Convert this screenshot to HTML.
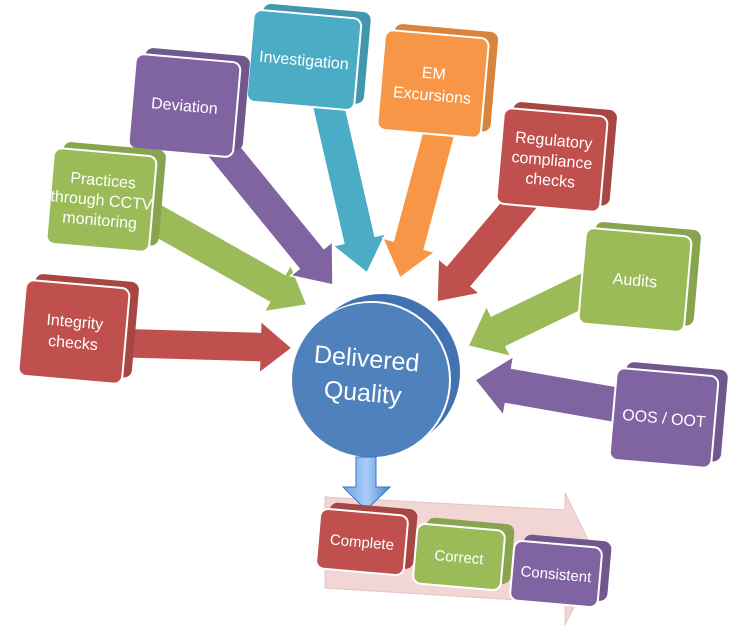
<!DOCTYPE html>
<html><head><meta charset="utf-8"><style>
html,body{margin:0;padding:0;background:#fff}
svg{display:block}
text{font-family:"Liberation Sans","DejaVu Sans",sans-serif;fill:#fff;text-anchor:middle}
</style></head><body>
<svg id="s" width="754" height="637" viewBox="0 0 754 637" xmlns="http://www.w3.org/2000/svg">
<defs>
<linearGradient id="bg" x1="0" x2="1" y1="0" y2="0"><stop offset="0" stop-color="#6fa3e6"/><stop offset="0.5" stop-color="#a9cdf7"/><stop offset="1" stop-color="#4a86d4"/></linearGradient>
</defs>
<g id="arrows"></g>
<polygon points="325,497 565,510 565,493 598,560 565,625 565,603 325,588" fill="#f2d5d5" stroke="#e8c3c3"/>
<g id="boxes"></g>
<ellipse cx="382" cy="372" rx="78" ry="78" fill="#4272b0"/>
<ellipse cx="372" cy="380" rx="78" ry="78" fill="#4f81bd" stroke="#fff" stroke-width="2"/>
<ellipse cx="370" cy="380" rx="78" ry="77" fill="#4f81bd"/>
<text x="366" y="367" font-size="25" transform="rotate(5 366 367)">Delivered</text>
<text x="362" y="401" font-size="25" transform="rotate(5 362 401)">Quality</text>
<polygon points="356,457 376,457 376,487 390,487 366,510 343,487 356,487" fill="url(#bg)" stroke="#3a74c0" stroke-width="1"/>
<g id="boxes2"></g>
</svg>
<script>
var NS="http://www.w3.org/2000/svg";
function el(p,t,a){var e=document.createElementNS(NS,t);for(var k in a)e.setAttribute(k,a[k]);p.appendChild(e);return e;}
var A=document.getElementById('arrows');
function arrow(x1,y1,x2,y2,c,w,hw,hl){
 var dx=x2-x1,dy=y2-y1,L=Math.hypot(dx,dy),ux=dx/L,uy=dy/L,nx=-uy,ny=ux;
 var bx=x2-ux*hl,by=y2-uy*hl;
 var p=[[x1+nx*w/2,y1+ny*w/2],[bx+nx*w/2,by+ny*w/2],[bx+nx*hw/2,by+ny*hw/2],[x2,y2],[bx-nx*hw/2,by-ny*hw/2],[bx-nx*w/2,by-ny*w/2],[x1-nx*w/2,y1-ny*w/2]];
 el(A,'polygon',{points:p.map(function(q){return q.join(',')}).join(' '),fill:c,stroke:'#fff','stroke-width':1.5});
}
var R='#c0504d',G='#9bbb59',P='#8064a2',B='#4bacc6',O='#f79646';
arrow(120,343,292,348,R,30,52,32);
arrow(130,205,307,305,G,32,54,34);
arrow(215,140,333,285,P,32,54,34);
arrow(325,90,367,273,B,32,54,34);
arrow(445,110,400,278,O,32,54,34);
arrow(540,180,437,302,R,32,54,34);
arrow(605,280,468,346,G,34,56,34);
arrow(635,408,475,380,P,36,60,34);
function dark(c){var n=parseInt(c.slice(1),16),r=n>>16,g=n>>8&255,b=n&255;return 'rgb('+(r*.88|0)+','+(g*.88|0)+','+(b*.88|0)+')';}
function box(par,x,y,w,h,c,lines,fs,rot,lh){
 var g=el(par,'g',{transform:'rotate('+rot+' '+(x+w/2)+' '+(y+h/2)+')'});
 el(g,'rect',{x:x+9,y:y-7,width:w,height:h,rx:8,fill:dark(c)});
 el(g,'rect',{x:x,y:y,width:w,height:h,rx:8,fill:c,stroke:'#fff','stroke-width':2});
 var n=lines.length,cy=y+h/2-(n-1)*lh/2+fs*0.35;
 lines.forEach(function(t,i){var e=el(g,'text',{x:x+w/2,y:cy+i*lh,'font-size':fs});e.textContent=t;});
}
var Bx=document.getElementById('boxes');
box(Bx,250,14,108,92,B,['Investigation'],16,5,18);
box(Bx,132,58,105,95,P,['Deviation'],16,5,18);
box(Bx,50,152,103,96,G,['Practices','through CCTV','monitoring'],16,5,20);
box(Bx,22,284,104,96,R,['Integrity','checks'],16,5,21);
box(Bx,381,34,104,100,O,['EM','Excursions'],16,5,22);
box(Bx,500,112,104,96,R,['Regulatory','compliance','checks'],16,5,20);
box(Bx,582,232,106,96,G,['Audits'],16,5,18);
box(Bx,613,372,102,92,P,['OOS / OOT'],16,5,18);
var B2=document.getElementById('boxes2');
box(B2,318,512,88,60,R,['Complete'],15,5,18);
box(B2,415,527,88,60,G,['Correct'],15,5,18);
box(B2,512,544,88,60,P,['Consistent'],15,5,18);
</script>
</body></html>
